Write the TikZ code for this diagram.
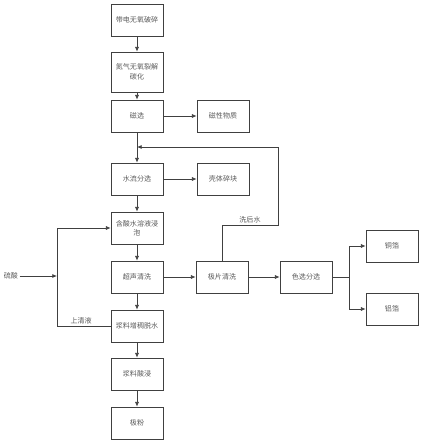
\documentclass[tikz,border=0pt]{standalone}
\usepackage{fontspec}
\setmainfont{Noto Sans CJK SC}
\usetikzlibrary{arrows.meta}
\begin{document}
\begin{tikzpicture}[x=0.03cm,y=-0.03cm,line width=0.6pt,
  box/.style={draw=black!75,minimum width=1.56cm,minimum height=0.96cm,align=center,
    text=black!65,font=\fontsize{6}{8}\selectfont,inner sep=1pt},
  lbl/.style={text=black!65,font=\fontsize{6}{8}\selectfont,inner sep=1pt},
  flow/.style={-{Latex[length=4pt,width=3.5pt]},draw=black!75},
  line/.style={draw=black!75}]
  \useasboundingbox (0,0) rectangle (422,443);
  % main column
  \node[box] (crush) at (137,20) {带电无氧破碎};
  \node[box,minimum height=1.2cm] (pyro) at (137,72) {氮气无氧裂解\\碳化};
  \node[box] (magsep) at (137,116) {磁选};
  \node[box] (water) at (137,179) {水流分选};
  \node[box] (soak) at (137,228) {含酸水溶液浸\\泡};
  \node[box] (sonic) at (137,277) {超声清洗};
  \node[box] (dewater) at (137,326) {浆料增稠脱水};
  \node[box] (leach) at (137,374) {浆料酸浸};
  \node[box] (powder) at (137,423) {极粉};
  % side boxes
  \node[box] (magnet) at (223,116) {磁性物质};
  \node[box] (shell) at (223,179) {壳体碎块};
  \node[box] (plate) at (222,277) {极片清洗};
  \node[box] (color) at (306,277) {色选分选};
  \node[box] (cu) at (392,246) {铜箔};
  \node[box] (al) at (392,309) {铝箔};
  \node[lbl] (acid) at (11,276) {硫酸};
  \coordinate (fb) at (137,147);
  \coordinate (wash) at (278,225);
  \coordinate (jb) at (57,326);
  \coordinate (split) at (349,277);
  % connectors
  \draw[flow] (crush) -- (pyro);
  \draw[flow] (pyro) -- (magsep);
  \draw[flow] (magsep) -- (water);
  \draw[flow] (water) -- (soak);
  \draw[flow] (soak) -- (sonic);
  \draw[flow] (sonic) -- (dewater);
  \draw[flow] (dewater) -- (leach);
  \draw[flow] (leach) -- (powder);
  \draw[flow] (magsep) -- (magnet);
  \draw[flow] (water) -- (shell);
  \draw[flow] (sonic) -- (plate);
  \draw[flow] (plate) -- (color);
  \draw[line] (color.east) -- (split);
  \draw[flow] (split) |- (cu.west);
  \draw[flow] (split) |- (al.west);
  \draw[flow] (plate.north) |- node[lbl,pos=0.75,above] {洗后水} (wash) |- (fb);
  \draw[flow] (dewater.west) -- node[lbl,above,pos=0.55] {上清液} (jb) |- (soak.west);
  \draw[flow] (acid.east) -- (acid -| jb);
\end{tikzpicture}
\end{document}
